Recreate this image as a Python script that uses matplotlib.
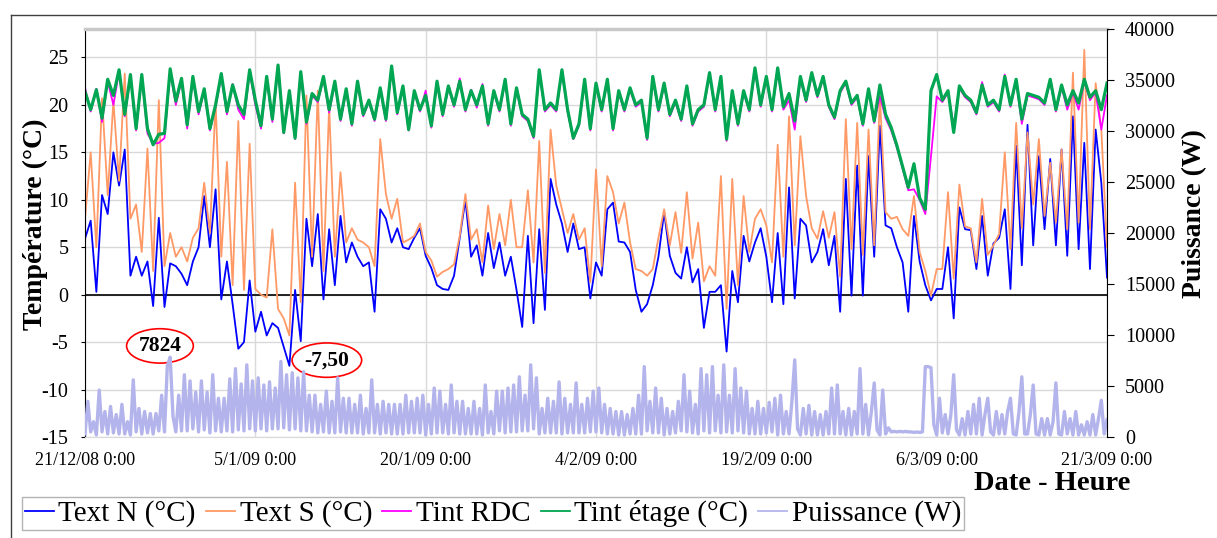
import numpy as np
import pandas as pd
import matplotlib
matplotlib.use('Agg')
import matplotlib.pyplot as plt
from matplotlib.lines import Line2D

plt.rcParams['font.family'] = ['Liberation Serif', 'DejaVu Serif']
plt.rcParams['axes.unicode_minus'] = False

debut = pd.Timestamp('2008-12-21 00:00')
fin = pd.Timestamp('2009-03-21 00:00')

# temperatures read every 12 h (0:00 / 12:00), 21/12/08 -> 21/3/09
text_n = [5.9, 7.8, 0.3, 10.5, 8.5, 15.0, 11.5, 15.3, 2.0, 4.0, 2.0, 3.5, -1.2, 8.1, -1.3, 3.3, 3.0, 2.2, 1.0, 3.5, 5.0, 10.4, 5.0, 11.1, -0.5, 3.5, -1.0, -5.7, -5.0, 1.5,
          -3.9, -1.8, -4.3, -3.0, -3.5, -5.5, -7.5, 0.5, -4.9, 8.0, 3.0, 8.5, -0.5, 6.9, 1.0, 8.3, 3.4, 5.5, 4.0, 3.0, 3.4, -1.8, 9.0, 8.0, 5.5, 7.0, 5.0, 4.8, 6.0, 7.0,
          4.1, 2.8, 1.0, 0.6, 0.5, 2.0, 6.0, 10.0, 4.0, 5.2, 2.0, 6.5, 2.8, 5.5, 2.0, 4.0, 0.5, -3.4, 6.2, -3.0, 6.9, -1.6, 12.2, 9.5, 7.5, 4.5, 7.5, 4.8, 5.0, -0.4,
          3.4, 2.0, 9.0, 9.7, 5.6, 5.5, 4.5, 0.5, -1.8, -1.0, 1.0, 4.0, 8.7, 4.1, 2.3, 1.7, 5.0, 1.3, 2.7, -3.5, 0.3, 0.3, 1.0, -6.0, 2.5, -0.8, 6.2, 3.5, 5.5, 7.0,
          4.0, -0.8, 6.5, -1.0, 11.3, -0.4, 8.0, 7.3, 3.4, 4.5, 6.9, 3.1, 6.2, -1.8, 12.2, -0.1, 13.6, -0.1, 14.6, 4.0, 17.8, 7.3, 7.0, 5.0, 3.4, -1.8, 8.3, 3.5, 1.0, -0.6,
          0.6, 0.6, 5.0, -2.5, 9.2, 6.9, 6.8, 2.7, 8.3, 2.0, 5.4, 6.0, 9.0, 0.6, 15.7, 3.1, 17.9, 5.2, 14.6, 6.9, 14.3, 5.2, 15.3, 4.1, 18.8, 4.8, 16.0, 2.7, 17.4, 11.8,
          1.8]

text_s = [8.0, 15.0, 5.0, 20.7, 10.5, 20.4, 12.0, 23.3, 8.0, 9.5, 4.5, 15.4, 2.5, 20.5, 3.0, 6.5, 4.0, 5.0, 3.5, 6.0, 7.0, 11.8, 6.5, 20.4, 4.0, 14.0, 1.0, 18.3, 0.5, 15.9,
          0.6, 0.0, -0.3, 6.9, -1.5, -2.5, -4.3, 11.8, -0.8, 21.0, 4.0, 21.5, 2.5, 19.9, 4.0, 12.9, 5.5, 7.0, 5.8, 5.5, 5.0, 3.0, 16.4, 10.6, 8.0, 10.1, 5.5, 5.8, 6.2, 7.5,
          4.5, 3.6, 1.9, 2.4, 2.7, 3.2, 6.2, 10.6, 5.8, 6.9, 3.4, 9.4, 4.8, 8.5, 5.2, 10.0, 5.0, 5.0, 11.0, 3.4, 16.2, 2.3, 17.4, 11.5, 9.0, 6.5, 8.5, 5.8, 7.0, 1.3,
          13.2, 3.0, 12.5, 10.8, 7.5, 9.7, 5.5, 2.7, 2.5, 2.0, 2.7, 6.0, 9.0, 5.2, 8.7, 4.4, 10.8, 3.8, 7.6, 1.4, 3.0, 2.0, 12.5, -1.5, 12.2, 1.0, 10.4, 4.5, 8.0, 9.0,
          7.3, 3.4, 15.8, 4.0, 18.8, 5.2, 16.7, 10.4, 7.0, 5.9, 8.8, 6.0, 8.7, 1.9, 18.5, 4.8, 18.1, 4.2, 17.4, 5.2, 20.9, 8.7, 8.0, 8.2, 6.9, 6.2, 10.4, 4.5, 2.5, -0.1,
          2.7, 2.7, 10.8, 1.7, 11.6, 7.2, 7.0, 3.4, 10.1, 4.2, 5.2, 6.4, 15.0, 4.8, 18.1, 7.0, 17.1, 9.5, 16.4, 8.3, 13.9, 7.6, 15.3, 6.9, 23.4, 7.6, 25.8, 6.9, 22.3, 17.4,
          5.0]

tint_rdc = [21.8, 19.3, 21.7, 18.2, 22.5, 20.0, 23.5, 18.8, 23.0, 17.3, 23.0, 17.0, 15.9, 16.0, 16.5, 23.5, 20.0, 22.6, 17.5, 22.8, 19.0, 21.5, 17.3, 19.8, 23.0, 19.0, 22.2, 19.5, 18.5, 23.5,
            20.0, 17.5, 22.8, 18.2, 24.0, 17.0, 21.3, 16.4, 23.3, 18.0, 21.0, 20.3, 22.8, 19.2, 22.3, 18.3, 21.5, 17.8, 22.3, 18.8, 20.3, 18.3, 21.6, 18.3, 23.9, 19.0, 21.8, 17.3, 21.3, 19.3,
            21.5, 17.6, 22.4, 18.8, 21.8, 19.8, 22.8, 19.3, 21.6, 19.7, 22.2, 17.8, 21.4, 19.3, 22.5, 17.8, 21.6, 18.8, 18.3, 16.5, 23.5, 19.3, 20.0, 19.3, 23.5, 19.3, 16.4, 17.8, 22.5, 17.3,
            22.1, 19.3, 22.5, 17.3, 21.3, 19.3, 21.6, 19.8, 20.3, 16.3, 22.8, 19.3, 22.1, 18.8, 20.3, 18.3, 21.8, 17.8, 19.3, 19.8, 23.2, 19.3, 22.8, 16.2, 21.3, 17.8, 21.3, 19.3, 23.7, 19.8,
            22.8, 19.3, 23.7, 19.5, 20.5, 17.4, 22.8, 20.3, 23.2, 20.8, 22.8, 19.8, 18.5, 21.3, 22.3, 20.0, 20.8, 17.8, 21.5, 18.1, 20.9, 18.6, 17.3, 15.5, 13.3, 11.0, 11.1, 10.0, 8.5, 14.6,
            20.9, 20.3, 21.3, 17.8, 21.8, 20.8, 20.3, 19.0, 22.4, 19.8, 20.3, 19.3, 23.2, 19.8, 22.5, 18.0, 21.0, 20.8, 20.6, 20.0, 22.5, 19.3, 21.9, 19.5, 21.3, 19.5, 22.5, 20.5, 21.3, 17.4,
            21.0]

tint_etage = [21.4, 19.5, 21.6, 18.6, 22.7, 21.0, 23.7, 19.0, 23.2, 17.5, 23.2, 17.5, 15.8, 16.9, 17.0, 23.8, 20.4, 22.8, 17.9, 23.0, 19.3, 21.7, 17.5, 20.0, 23.3, 19.3, 22.1, 20.0, 19.0, 23.7,
              20.5, 17.8, 23.0, 18.5, 24.2, 17.1, 21.5, 16.5, 23.5, 18.2, 21.2, 20.5, 23.0, 19.5, 22.5, 18.5, 21.7, 18.0, 22.5, 19.0, 20.5, 18.5, 21.8, 18.5, 24.1, 19.2, 22.0, 17.4, 21.5, 19.5,
              21.0, 17.8, 22.5, 19.0, 22.0, 20.0, 22.5, 19.5, 21.5, 20.0, 22.0, 18.0, 21.5, 19.5, 22.7, 18.0, 21.8, 19.0, 18.5, 16.7, 23.7, 19.5, 20.2, 19.5, 23.7, 19.5, 16.5, 18.0, 22.7, 17.5,
              22.3, 19.5, 22.7, 17.5, 21.5, 19.5, 21.8, 20.0, 20.5, 16.5, 23.0, 19.5, 22.3, 19.0, 20.5, 18.5, 22.0, 18.0, 19.5, 20.0, 23.4, 19.5, 23.0, 16.4, 21.5, 18.0, 21.5, 19.5, 23.9, 20.0,
              23.0, 19.5, 23.9, 19.8, 21.2, 18.3, 23.0, 20.5, 23.4, 21.0, 23.0, 20.0, 18.7, 21.5, 22.5, 20.2, 21.0, 18.0, 21.7, 18.3, 22.1, 19.0, 17.6, 15.7, 13.5, 11.3, 13.8, 10.2, 9.0, 21.5,
              23.2, 20.5, 21.5, 17.1, 22.0, 21.0, 20.5, 19.2, 22.1, 20.0, 20.5, 19.5, 23.0, 20.0, 22.7, 18.5, 21.2, 21.0, 20.8, 20.2, 22.7, 19.5, 22.1, 20.0, 21.5, 20.2, 22.7, 20.8, 21.5, 19.5,
              22.3]

# heating power read every 6 h, one row per day
puissance_jours = [
    [300, 3500, 500, 1500], [200, 4600, 500, 2500], [300, 3000, 400, 2200], [300, 3200, 300, 1500],
    [200, 5600, 500, 2800], [300, 2500, 400, 2300], [300, 2300, 600, 4100], [500, 7000, 7824, 2000],
    [500, 4100, 600, 6100], [600, 5500, 800, 4400], [500, 5500, 700, 4400], [400, 6100, 600, 3800],
    [500, 3800, 600, 5700], [500, 6700, 700, 5200], [600, 7070, 800, 5500], [600, 5800, 800, 5100],
    [600, 5400, 800, 4800], [800, 7400, 900, 6100], [700, 6300, 800, 5800], [600, 6400, 600, 4100],
    [500, 4100, 400, 3200], [500, 4500, 400, 3500], [400, 5800, 500, 3800], [400, 3800, 400, 3200],
    [400, 4100, 300, 2800], [400, 5600, 400, 3200], [300, 3500, 400, 3200], [300, 3200, 300, 3200],
    [300, 4100, 400, 3500], [400, 3800, 400, 4100], [200, 3200, 300, 4800], [400, 4500, 400, 3200],
    [300, 5100, 400, 3500], [300, 3500, 300, 2800], [300, 3500, 300, 2800], [200, 5100, 400, 2500],
    [300, 4500, 600, 4500], [400, 4800, 500, 5100], [500, 5900, 600, 4100], [600, 7070, 800, 5800],
    [300, 2800, 400, 3800], [400, 3500, 400, 5400], [300, 3800, 400, 3200], [400, 5300, 400, 3200],
    [400, 3800, 500, 4500], [500, 4800, 400, 3200], [300, 2800, 300, 2500], [200, 2500, 200, 2200],
    [300, 2800, 300, 4100], [300, 6900, 600, 3500], [400, 4800, 400, 3800], [200, 2800, 300, 2500],
    [400, 3500, 600, 6100], [500, 4500, 400, 3200], [300, 6700, 600, 6100], [400, 6900, 600, 4100],
    [400, 7070, 500, 4100], [400, 6700, 600, 4800], [400, 4500, 300, 2800], [300, 3500, 300, 2800],
    [400, 3400, 500, 3800], [200, 4100, 300, 2500], [300, 3500, 7560, 800], [200, 2800, 300, 3100],
    [200, 2500, 200, 2200], [200, 2500, 300, 4800], [300, 5100, 300, 2500], [200, 2800, 200, 2500],
    [300, 6700, 300, 3200], [200, 2500, 5300, 700], [200, 4600, 300, 900], [500, 550, 500, 550],
    [500, 550, 500, 500], [450, 500, 450, 500], [6900, 6900, 6800, 1200], [200, 3800, 400, 2200],
    [300, 2200, 6100, 700], [200, 1800, 200, 2500], [300, 3200, 300, 3800], [200, 2200, 3800, 500],
    [200, 2500, 300, 2200], [300, 2500, 3800, 300], [200, 2500, 5900, 300], [300, 2200, 5100, 300],
    [200, 1800, 200, 1800], [200, 1500, 5300, 300], [200, 2500, 300, 1800], [200, 2500, 200, 1200],
    [200, 1500, 200, 2200], [200, 1800, 3600, 300]]
puissance_fin = 1700

t12 = pd.date_range(debut, fin, freq='12h')
t6 = pd.date_range(debut, fin, freq='6h')
puissance = list(np.array(puissance_jours).ravel()) + [puissance_fin]

fig = plt.figure(figsize=(12.17, 5.38), dpi=100)
ax = fig.add_axes([85/1217, 1-437/538, (1107-85)/1217, (437-29)/538])
ax2 = ax.twinx()

c_n, c_s, c_rdc, c_et, c_p = '#0000FF', '#FF9966', '#FF00FF', '#00A651', '#B4B4EC'
ax.plot(t12, text_n, color=c_n, lw=1.3)
ax.plot(t12, text_s, color=c_s, lw=1.3)
ax.plot(t12, tint_rdc, color=c_rdc, lw=1.3)
ax.plot(t12, tint_etage, color=c_et, lw=2.3)
ax2.plot(t6, puissance, color=c_p, lw=2.4)

ax.axhline(0, color='black', lw=1.2, zorder=1)

ax.set_xlim(debut, fin)
ax.set_ylim(-15, 28)
ax.set_yticks(range(-15, 26, 5))
ax2.set_ylim(0, 40000)
ax2.set_yticks(range(0, 40001, 5000))

xt = pd.date_range(debut, fin, freq='15D')
ax.set_xticks(xt)
ax.set_xticklabels([f"{d.day}/{d.month}/{d:%y} {d.hour}:{d:%M}" for d in xt])

ax.grid(True, color='#D9D9D9', lw=1)
ax.set_axisbelow(True)

ax.tick_params(axis='y', direction='out', length=3, pad=9, labelsize=14.5)
ax.tick_params(axis='x', length=0, pad=11, labelsize=13)
ax2.tick_params(axis='y', direction='out', length=5, pad=8, labelsize=14.5)

ax.spines['top'].set_color('#C8C8C8')
ax.spines['top'].set_linewidth(2.5)
ax.spines['bottom'].set_color('#D9D9D9')
ax.spines['right'].set_visible(False)
for s in ['top', 'bottom', 'left']:
    ax2.spines[s].set_visible(False)

ax.set_ylabel('Température (°C)', fontsize=20, fontweight='bold')
ax.yaxis.set_label_coords(-0.036, 0.522)
ax2.set_ylabel('Puissance (W)', fontsize=20, fontweight='bold', rotation=90)
ax2.yaxis.set_label_coords(1.073, 0.547)

fig.text(1052/1217, 1-483/538, 'Date - Heure', fontsize=20.5, fontweight='bold',
         ha='center', va='center')

# labels for the extremes
pmax = max(puissance)
tmin = min(text_n)
ax.text(debut + pd.Timedelta(days=6.6), -5.4, f"{pmax:.0f}", fontsize=15.5, fontweight='bold',
        ha='center', va='center',
        bbox=dict(boxstyle='ellipse,pad=0.1', fc='white', ec='red', lw=1.2))
ax.text(debut + pd.Timedelta(days=21.3), -6.9, f"{tmin:.2f}".replace('.', ','), fontsize=15.5,
        fontweight='bold', ha='center', va='center',
        bbox=dict(boxstyle='ellipse,pad=0.1', fc='white', ec='red', lw=1.2))

handles = [Line2D([], [], color=c, lw=1.3) for c in [c_n, c_s, c_rdc, c_et, c_p]]
labels = ['Text N (°C)', 'Text S (°C)', 'Tint RDC', 'Tint étage (°C)', 'Puissance (W)']
fig.legend(handles, labels, loc='upper left', bbox_to_anchor=(22/1217, 1-497/538),
           ncol=5, fontsize=21, frameon=True, fancybox=False, edgecolor='#A0A0A0',
           handlelength=1.0, handletextpad=0.15, columnspacing=0.35, borderpad=0.1,
           borderaxespad=0)

# chart area border
fig.add_artist(Line2D([11/1217, 1], [1-15/538, 1-15/538], transform=fig.transFigure,
                      color='#404040', lw=1))
fig.add_artist(Line2D([11/1217, 11/1217], [0, 1-15/538], transform=fig.transFigure,
                      color='#404040', lw=1))

fig.savefig('out.png', dpi=100)
